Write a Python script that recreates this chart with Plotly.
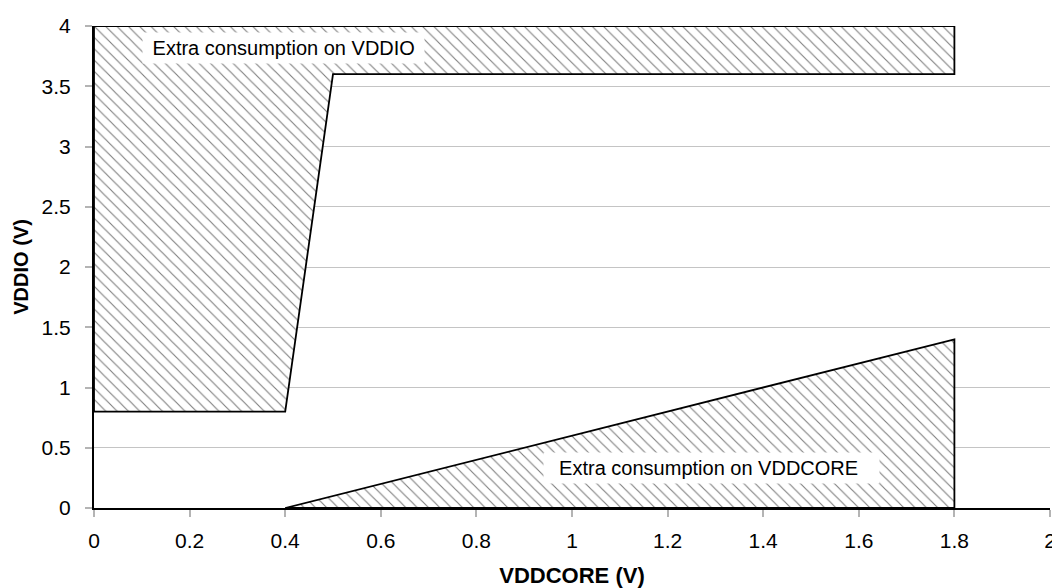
import plotly.graph_objects as go

# VDDIO extra-consumption region outline
vddio_x = [0, 1.8, 1.8, 0.5, 0.4, 0, 0]
vddio_y = [4, 4, 3.6, 3.6, 0.8, 0.8, 4]
# VDDCORE extra-consumption region outline
core_x = [0.4, 1.8, 1.8, 0.4]
core_y = [0, 1.4, 0, 0]

x_ticks = [0, 0.2, 0.4, 0.6, 0.8, 1, 1.2, 1.4, 1.6, 1.8, 2]
x_tick_labels = ["0", "0.2", "0.4", "0.6", "0.8", "1", "1.2", "1.4", "1.6", "1.8", "2"]
y_ticks = [0, 0.5, 1, 1.5, 2, 2.5, 3, 3.5, 4]
y_tick_labels = ["0", "0.5", "1", "1.5", "2", "2.5", "3", "3.5", "4"]

label_io = "Extra consumption on VDDIO"
label_core = "Extra consumption on VDDCORE"

FONT = "Liberation Sans, Arial, sans-serif"
pattern = dict(shape="\\", size=8, solidity=0.14, fgcolor="black", bgcolor="white")

fig = go.Figure()
fig.add_trace(go.Scatter(x=vddio_x, y=vddio_y, mode="lines", fill="toself",
                         fillcolor="white", fillpattern=pattern,
                         line=dict(color="black", width=1.8), hoverinfo="skip"))
fig.add_trace(go.Scatter(x=core_x, y=core_y, mode="lines", fill="toself",
                         fillcolor="white", fillpattern=pattern,
                         line=dict(color="black", width=1.8), hoverinfo="skip"))

fig.add_annotation(x=0.396, y=3.82, text="&nbsp;" + label_io + "&nbsp;", showarrow=False,
                   bgcolor="white", font=dict(family=FONT, size=20, color="black"),
                   borderpad=4)
fig.add_annotation(x=1.292, y=0.333, text="&nbsp;&nbsp;" + label_core + "&nbsp;&nbsp;&nbsp;", showarrow=False,
                   bgcolor="white", font=dict(family=FONT, size=20, color="black"),
                   borderpad=4)

fig.update_layout(
    width=1052, height=588,
    margin=dict(l=94, r=2, t=26, b=80, autoexpand=False),
    plot_bgcolor="white", paper_bgcolor="white",
    showlegend=False,
    font=dict(family=FONT, size=21, color="black"),
    xaxis=dict(range=[0, 2], tickvals=x_ticks, ticktext=x_tick_labels, automargin=False,
               showgrid=False, zeroline=False, showline=True, linecolor="black", linewidth=2,
               ticks="outside", ticklen=7, tickwidth=1.5, tickcolor="#b4b4b4",
               tickfont=dict(size=21), ticklabelstandoff=6, ticklabeloverflow="allow",
               title=dict(text="<b>VDDCORE (V)</b>", font=dict(size=22), standoff=17)),
    yaxis=dict(range=[0, 4], tickvals=y_ticks, ticktext=y_tick_labels, automargin=False,
               showgrid=True, gridcolor="#c4c4c4", gridwidth=1, zeroline=False,
               showline=True, linecolor="black", linewidth=2,
               ticks="outside", ticklen=7, tickwidth=1.5, tickcolor="#b4b4b4",
               tickfont=dict(size=21), ticklabelstandoff=10, ticklabeloverflow="allow",
               title=dict(text="<b>VDDIO (V)</b>", font=dict(size=20), standoff=8)),
)

fig.write_html("out.html", config={"displayModeBar": False},
               post_script="document.body.style.margin='0';")
